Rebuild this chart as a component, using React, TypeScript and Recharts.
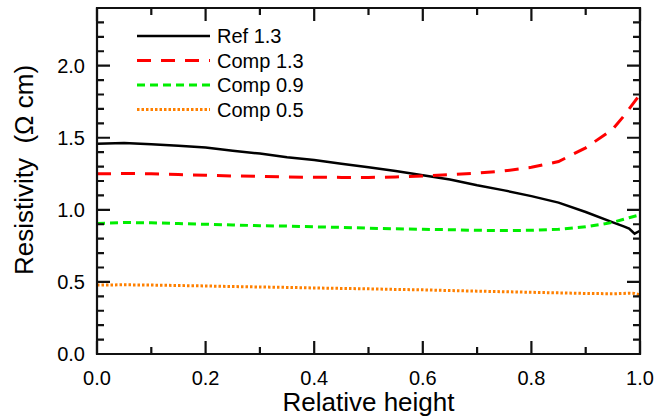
import React from 'react';
import { LineChart, Line, XAxis, YAxis } from 'recharts';

// Relative height positions (shared by all series)
const heights = [0, 0.05, 0.1, 0.15, 0.2, 0.25, 0.3, 0.35, 0.4, 0.45, 0.5, 0.55, 0.6, 0.65, 0.7, 0.75, 0.8, 0.85, 0.9, 0.95, 0.97, 0.98, 0.99, 1.0];

// Resistivity values (Ohm cm)
const ref13 = [1.458, 1.463, 1.455, 1.445, 1.432, 1.41, 1.39, 1.365, 1.345, 1.32, 1.295, 1.27, 1.24, 1.21, 1.17, 1.135, 1.095, 1.05, 0.985, 0.913, 0.885, 0.87, 0.835, 0.855];
const comp13 = [1.25, 1.252, 1.25, 1.245, 1.24, 1.235, 1.232, 1.228, 1.226, 1.225, 1.225, 1.228, 1.235, 1.245, 1.255, 1.27, 1.295, 1.335, 1.43, 1.56, 1.65, 1.7, 1.75, 1.8];
const comp09 = [0.905, 0.912, 0.91, 0.905, 0.9, 0.895, 0.89, 0.887, 0.882, 0.878, 0.873, 0.868, 0.865, 0.862, 0.858, 0.856, 0.858, 0.865, 0.882, 0.913, 0.935, 0.945, 0.955, 0.965];
const comp05 = [0.478, 0.48, 0.478, 0.475, 0.472, 0.468, 0.465, 0.462, 0.458, 0.455, 0.452, 0.448, 0.445, 0.44, 0.436, 0.432, 0.428, 0.424, 0.42, 0.418, 0.42, 0.422, 0.42, 0.41];

const xTicks = [0, 0.1, 0.2, 0.3, 0.4, 0.5, 0.6, 0.7, 0.8, 0.9, 1.0];
const yTicks = [0, 0.1, 0.2, 0.3, 0.4, 0.5, 0.6, 0.7, 0.8, 0.9, 1.0, 1.1, 1.2, 1.3, 1.4, 1.5, 1.6, 1.7, 1.8, 1.9, 2.0, 2.1, 2.2, 2.3, 2.4];

const seriesInfo = [
  { key: 'ref13', name: 'Ref 1.3', color: '#000000', dash: undefined, width: 2.5 },
  { key: 'comp13', name: 'Comp 1.3', color: '#ff0000', dash: '14 10', width: 3 },
  { key: 'comp09', name: 'Comp 0.9', color: '#00ee00', dash: '8 5', width: 3 },
  { key: 'comp05', name: 'Comp 0.5', color: '#ff8000', dash: '2.5 2', width: 3 },
];

const chartData = heights.map((h, i) => ({
  h,
  ref13: ref13[i],
  comp13: comp13[i],
  comp09: comp09[i],
  comp05: comp05[i],
}));

const FONT = 'Arial, "Liberation Sans", sans-serif';
const INK = '#111111';
const CHART_W = 668;
const CHART_H = 418;
const MARGIN = { top: 8, right: 28, left: 0, bottom: 0 };
const Y_AXIS_W = 97;
const X_AXIS_H = 64;
const Y_MAX = 2.4;

// plot box (same layout numbers that are handed to the chart)
const PL = MARGIN.left + Y_AXIS_W;
const PT = MARGIN.top;
const PW = CHART_W - PL - MARGIN.right;
const PH = CHART_H - PT - X_AXIS_H;

const isMajorX = (v: number) => Math.round(v * 10) % 2 === 0;
const isMajorY = (v: number) => Math.round(v * 10) % 5 === 0;

const xTickLabel = (props: any) => {
  const { x, y, payload } = props;
  if (!isMajorX(payload.value)) return <g />;
  return (
    <text x={x} y={y + 31} textAnchor="middle" fontSize={20} fontFamily={FONT} fill="#000">
      {payload.value.toFixed(1)}
    </text>
  );
};

const yTickLabel = (props: any) => {
  const { x, y, payload } = props;
  if (!isMajorY(payload.value)) return <g />;
  return (
    <text x={x - 12} y={y + 7} textAnchor="end" fontSize={20} fontFamily={FONT} fill="#000">
      {payload.value.toFixed(1)}
    </text>
  );
};

// frame with inward ticks on all four sides
const Frame = () => {
  const marks: string[] = [];
  xTicks.forEach(v => {
    const x = PL + v * PW;
    const len = isMajorX(v) ? 13 : 7;
    marks.push(`M${x},${PT + PH}V${PT + PH - len}`);
    marks.push(`M${x},${PT}V${PT + len}`);
  });
  yTicks.forEach(v => {
    const y = PT + PH - (v / Y_MAX) * PH;
    const len = isMajorY(v) ? 13 : 7;
    marks.push(`M${PL},${y}H${PL + len}`);
    marks.push(`M${PL + PW},${y}H${PL + PW - len}`);
  });
  return (
    <g>
      <path d={`M${PL},${PT}H${PL + PW}V${PT + PH}H${PL}Z`} fill="none" stroke={INK} strokeWidth={2.2} />
      <path d={marks.join('')} stroke={INK} strokeWidth={2.2} fill="none" />
    </g>
  );
};

export default function App() {
  return (
    <div style={{ position: 'absolute', left: 0, top: 0, background: '#fff' }}>
      <LineChart width={CHART_W} height={CHART_H} data={chartData} margin={MARGIN}>
        <XAxis dataKey="h" type="number" domain={[0, 1]} ticks={xTicks} interval={0} height={X_AXIS_H} tickSize={0} tickMargin={0} tickLine={false} axisLine={false} tick={xTickLabel} />
        <YAxis type="number" domain={[0, Y_MAX]} ticks={yTicks} interval={0} width={Y_AXIS_W} tickSize={0} tickMargin={0} tickLine={false} axisLine={false} tick={yTickLabel} />
        {seriesInfo.map(s => (
          <Line key={s.key} type="linear" dataKey={s.key} name={s.name} stroke={s.color} strokeWidth={s.width} strokeDasharray={s.dash} dot={false} isAnimationActive={false} />
        ))}
      </LineChart>
      <svg width={CHART_W} height={CHART_H} style={{ position: 'absolute', left: 0, top: 0, pointerEvents: 'none' }}>
        <Frame />
        {seriesInfo.map((s, i) => (
          <g key={s.key}>
            <line x1={137} x2={210} y1={36 + i * 24.5} y2={36 + i * 24.5} stroke={s.color} strokeWidth={s.width} strokeDasharray={s.dash} />
            <text x={217} y={36 + i * 24.5 + 7} fontSize={20} fontFamily={FONT} fill="#000">{s.name}</text>
          </g>
        ))}
        <text x={PL + PW / 2} y={411} textAnchor="middle" fontSize={26} fontFamily={FONT} fill="#000">Relative height</text>
        <text x={33} y={170} transform="rotate(-90 33 170)" textAnchor="middle" fontSize={26} fontFamily={FONT} fill="#000">
          {'Resistivity\u00A0 (Ω cm)'}
        </text>
      </svg>
    </div>
  );
}
